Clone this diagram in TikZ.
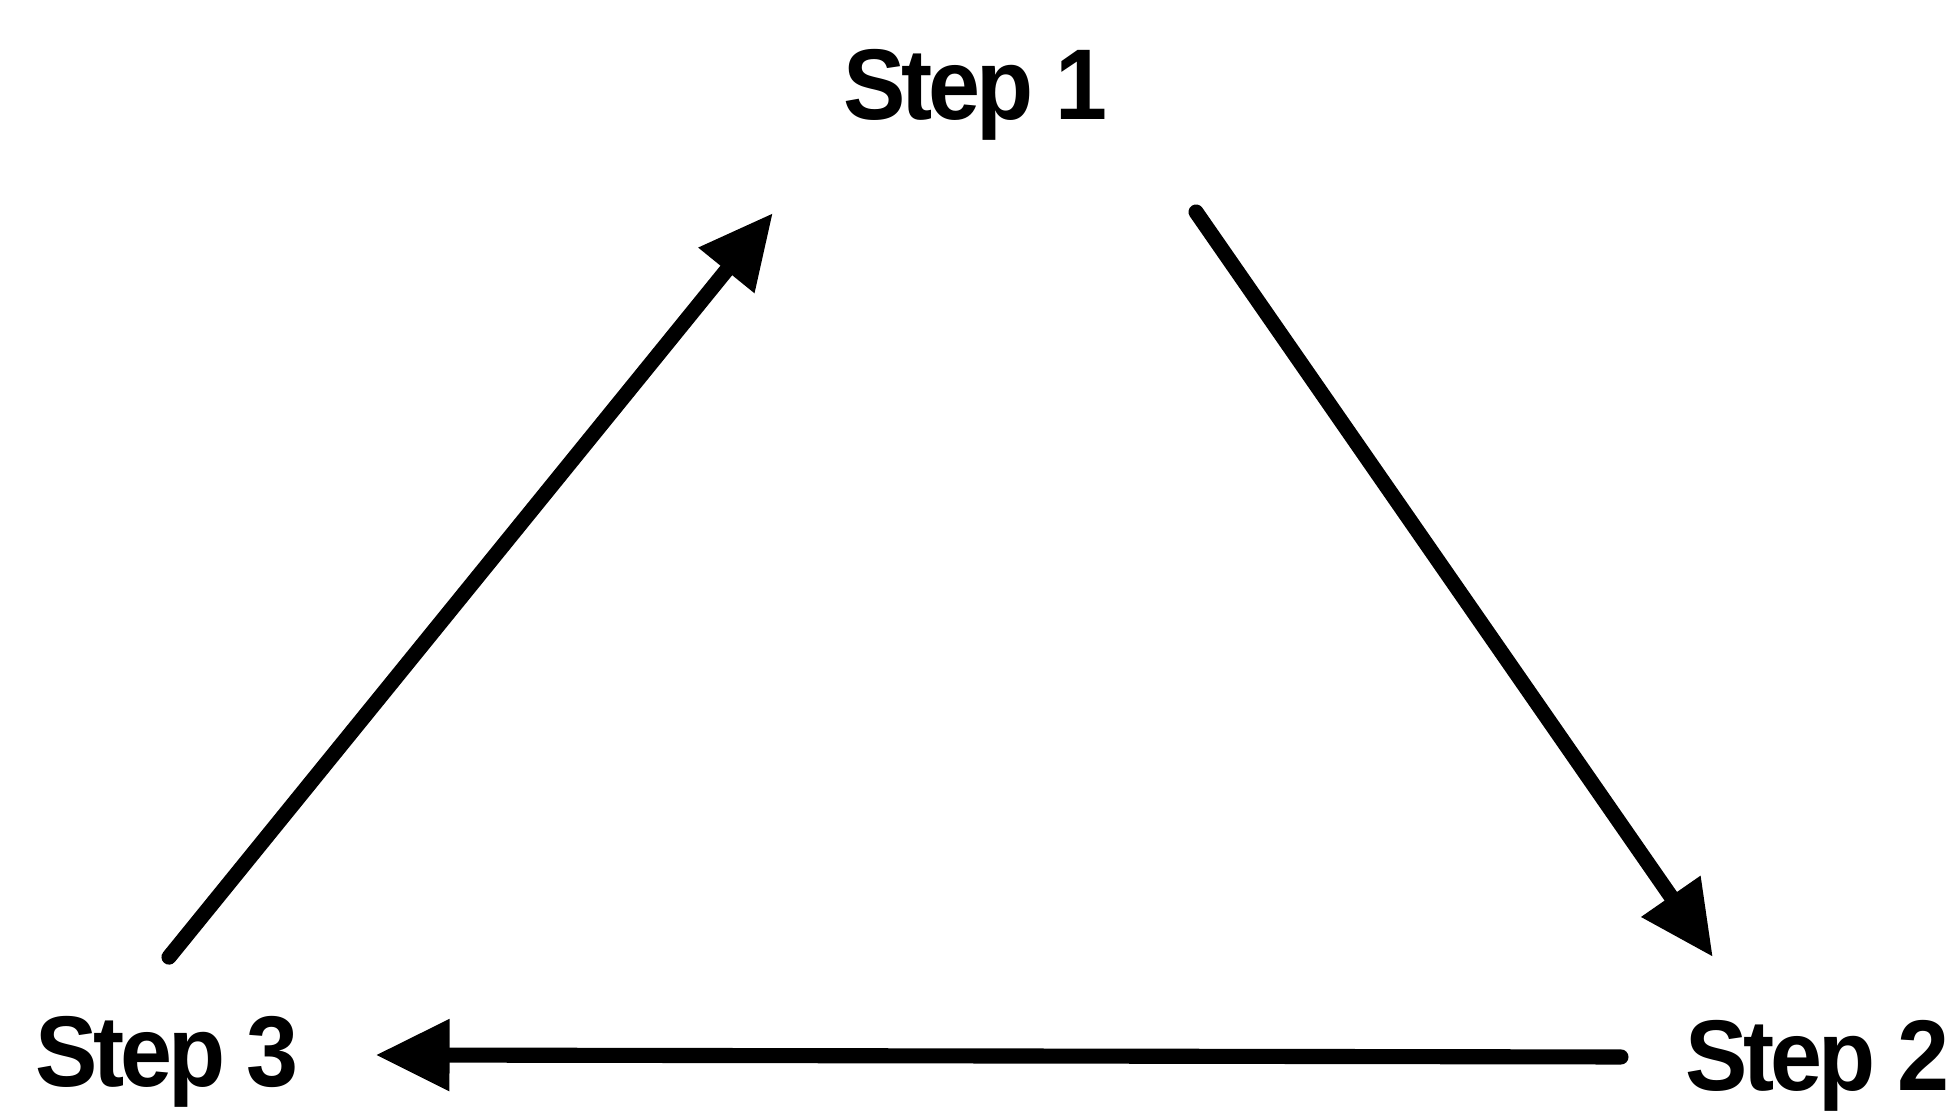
\documentclass[tikz,border=0pt]{standalone}
\usepackage{fontspec}
\newfontfamily\labelfont[FakeStretch=0.93, LetterSpace=-4.2]{Liberation Sans}
\usetikzlibrary{arrows.meta, positioning}

\tikzset{
  steplabel/.style={font=\labelfont\bfseries\fontsize{28.6}{30}\selectfont, inner sep=0pt, anchor=base},
  flow/.style={-{Triangle[length=0.74cm, width=0.68cm]}, line width=4.3pt, line cap=round}
}

\begin{document}
\begin{tikzpicture}
    \useasboundingbox (0,0) rectangle (19.59,11.12);
    \node[steplabel] (s1) at (9.755,9.92) {Step 1};
    \node[steplabel] (s2) at (18.175,0.21) {Step 2};
    \node[steplabel] (s3) at (1.67,0.25) {Step 3};
    \draw[flow] ([shift={(0.88,-0.92)}]s1.base east) -- ([shift={(0.28,0.63)}]s2.north west);
    \draw[flow] ([shift={(-0.64,0.34)}]s2.base west) -- ([shift={(0.76,0.32)}]s3.base east);
    \draw[flow] ([shift={(0.02,0.59)}]s3.north) -- ([shift={(-0.70,-0.93)}]s1.base west);
\end{tikzpicture}
\end{document}
